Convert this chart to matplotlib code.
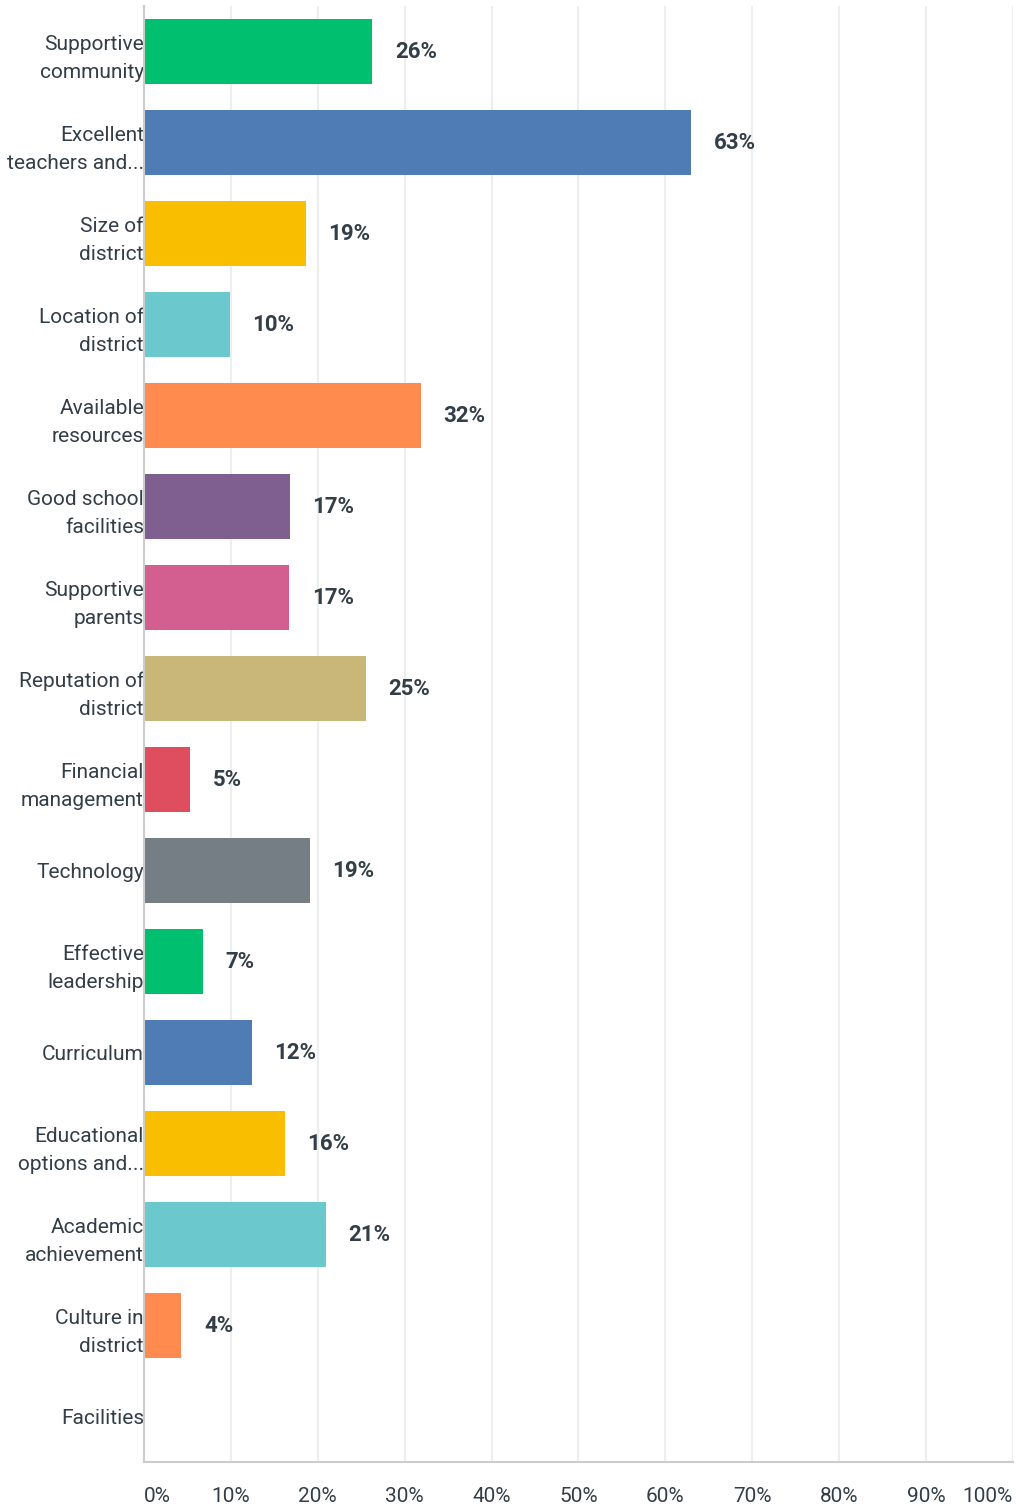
import numpy as np
import matplotlib.pyplot as plt

categories = [
    "Supportive\ncommunity", "Excellent\nteachers and...", "Size of\ndistrict",
    "Location of\ndistrict", "Available\nresources", "Good school\nfacilities",
    "Supportive\nparents", "Reputation of\ndistrict", "Financial\nmanagement",
    "Technology", "Effective\nleadership", "Curriculum", "Educational\noptions and...",
    "Academic\nachievement", "Culture in\ndistrict", "Facilities",
]
values = [26.3, 63.0, 18.6, 9.9, 31.9, 16.8, 16.7, 25.5, 5.3, 19.1, 6.8, 12.4, 16.2, 20.9, 4.3, 0.0]
labels = ["26%", "63%", "19%", "10%", "32%", "17%", "17%", "25%", "5%", "19%",
          "7%", "12%", "16%", "21%", "4%", ""]
palette = ["#00BF6F", "#507CB6", "#F9BE00", "#6BC8CD", "#FF8B4F", "#7F5F90",
           "#D25F90", "#C9B77A", "#DE4E5E", "#757D85"]
ticks = np.arange(0, 101, 10)

text_color = "#333E48"
plt.rcParams['font.family'] = ['Roboto', 'DejaVu Sans']

fig = plt.figure(figsize=(10.21, 15.09), dpi=100)
ax = fig.add_axes([0.141, 0.031, 0.851, 0.965])

y = np.arange(len(categories))
colors = [palette[i % len(palette)] for i in range(len(categories))]
ax.barh(y, values, height=0.714, color=colors, zorder=2)

for yi, v, lab in zip(y, values, labels):
    if lab:
        ax.text(v + 2.6, yi, lab, va='center', ha='left', fontsize=16,
                fontweight='bold', color=text_color)

ax.set_ylim(len(categories) - 0.5, -0.5)
ax.set_xlim(0, 100)
ax.set_yticks(y)
ax.set_yticklabels(categories, fontsize=15, color=text_color, linespacing=1.6)
ax.set_xticks(ticks)
xt = ax.set_xticklabels([f"{t}%" for t in ticks], fontsize=15, color=text_color, ha='center')
xt[0].set_ha('left')
xt[-1].set_ha('right')
ax.tick_params(axis='y', length=0, pad=0)
ax.tick_params(axis='x', length=0, pad=18)
ax.grid(axis='x', color='#EDEEEE', linewidth=1.5, zorder=0)
for s in ['top', 'right']:
    ax.spines[s].set_visible(False)
ax.spines['left'].set_color('#CCCCCC')
ax.spines['bottom'].set_color('#CCCCCC')
ax.spines['left'].set_linewidth(1.5)
ax.spines['bottom'].set_linewidth(1.5)

fig.savefig("out.png", dpi=100)
